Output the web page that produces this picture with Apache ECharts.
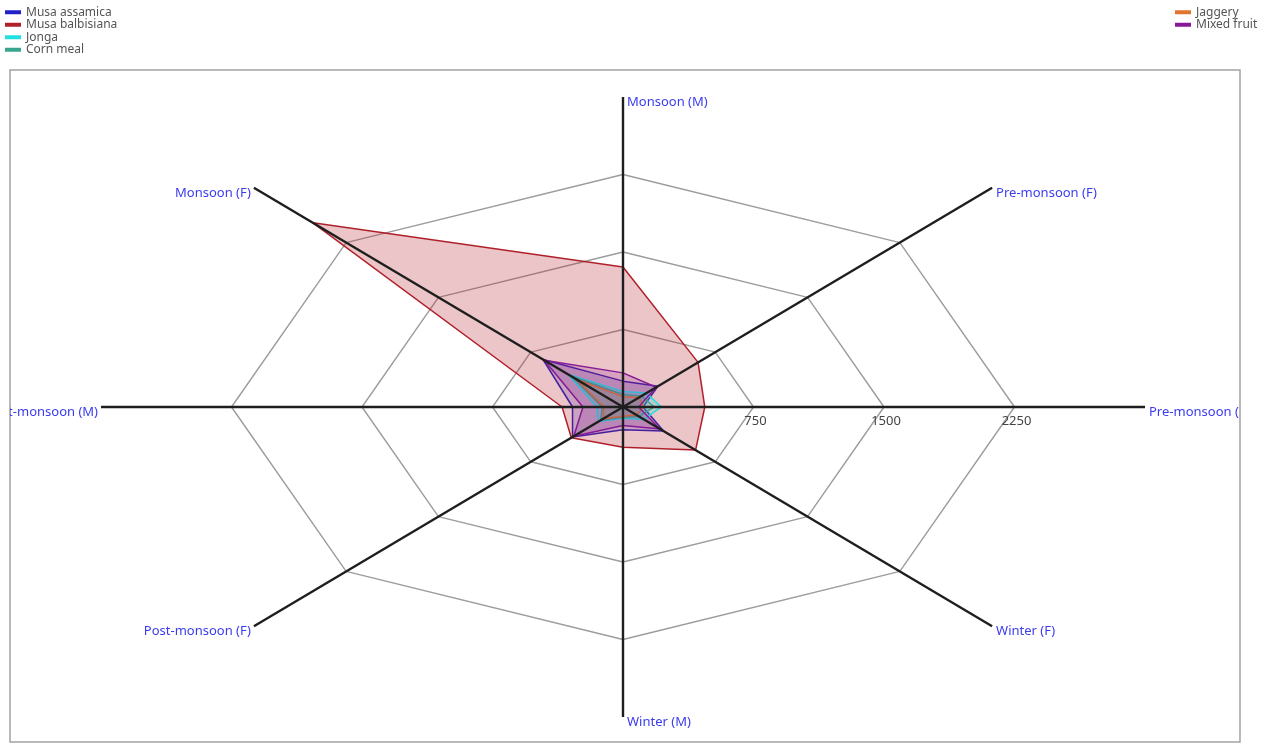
<!DOCTYPE html>
<html>
<head>
<meta charset="utf-8">
<title>Seasonal radar</title>
<script src="https://cdn.jsdelivr.net/npm/echarts@6/dist/echarts.min.js"></script>
<style>
  html, body { margin: 0; padding: 0; background: #ffffff; }
  #chart { width: 1269px; height: 744px; }
</style>
</head>
<body>
<div id="chart"></div>
<script>
// Spoke names, clockwise from the top
const categories = ['Monsoon (M)', 'Pre-monsoon (F)', 'Pre-monsoon (M)', 'Winter (F)',
  'Winter (M)', 'Post-monsoon (F)', 'Post-monsoon (M)', 'Monsoon (F)'];

// Grid rings and their labels
const ringValues = [750, 1500, 2250];
const tickLabels = ['750', '1500', '2250'];
const axisMax = 3000;

// Series values, one per spoke (same order as categories)
const musaAssamica   = [250, 285, 115, 330, 220, 410, 290, 650];
const musaBalbisiana = [1355, 610, 470, 590, 390, 420, 350, 2520];
const jonga          = [150, 190, 220, 170, 110, 200, 150, 450];
const cornMeal       = [120, 150, 180, 130, 100, 180, 120, 420];
const jaggery        = [100, 130, 120, 110, 90, 160, 110, 380];
const mixedFruit     = [330, 270, 90, 300, 180, 400, 230, 640];

const seriesNames = ['Musa assamica', 'Musa balbisiana', 'Jonga', 'Corn meal', 'Jaggery', 'Mixed fruit'];
const seriesValues = [musaAssamica, musaBalbisiana, jonga, cornMeal, jaggery, mixedFruit];
const seriesColors = ['#2020c8', '#b0202a', '#20e0e0', '#3aa58e', '#e0742f', '#861a96'];
const seriesFill   = [0.2, 0.26, 0.22, 0.22, 0.22, 0.2];

// Spoke i points at angle 90° - 45°·i; values are placed on a value/value grid
function spokeAngle(i) { return Math.PI / 2 - i * 2 * Math.PI / categories.length; }
function toXY(v, i) {
  const a = spokeAngle(i);
  return [v * Math.cos(a), v * Math.sin(a)];
}
function rgba(hex, a) {
  const n = parseInt(hex.slice(1), 16);
  return 'rgba(' + (n >> 16 & 255) + ',' + (n >> 8 & 255) + ',' + (n & 255) + ',' + a + ')';
}

const FONT = '"Noto Sans", "Open Sans", sans-serif';
const series = [];

// Concentric octagon rings
ringValues.forEach(function (r) {
  const pts = categories.map(function (c, i) { return toXY(r, i); });
  pts.push(pts[0]);
  series.push({
    type: 'line', data: pts, symbol: 'none', silent: true, z: 1,
    lineStyle: { color: '#9c9c9c', width: 1.4 },
    animation: false
  });
});

// Filled polygons, one per sample
seriesNames.forEach(function (name, k) {
  const vals = seriesValues[k];
  series.push({
    type: 'custom', name: name, coordinateSystem: 'cartesian2d', z: 2,
    itemStyle: { color: seriesColors[k] },
    data: vals.map(function (v, i) { return toXY(v, i); }),
    encode: { x: 0, y: 1 },
    animation: false,
    renderItem: function (params, api) {
      if (params.dataIndex !== 0) return null;
      const pts = vals.map(function (v, i) { return api.coord(toXY(v, i)); });
      return {
        type: 'polygon',
        shape: { points: pts },
        style: { fill: rgba(seriesColors[k], seriesFill[k]), stroke: seriesColors[k], lineWidth: 1.5, lineJoin: 'round' }
      };
    }
  });
});

// Spokes with their names
series.push({
  type: 'custom', coordinateSystem: 'cartesian2d', z: 3, silent: true, clip: true,
  data: categories.map(function (c, i) { return toXY(axisMax, i).concat([i]); }),
  encode: { x: 0, y: 1 },
  animation: false,
  renderItem: function (params, api) {
    const i = api.value(2);
    const c0 = api.coord([0, 0]);
    const c1 = api.coord([api.value(0), api.value(1)]);
    const leftSide = i >= 5;
    return {
      type: 'group',
      children: [
        { type: 'line', shape: { x1: c0[0], y1: c0[1], x2: c1[0], y2: c1[1] },
          style: { stroke: '#1e1e1e', lineWidth: 2.4 } },
        { type: 'text',
          style: { text: categories[i], x: c1[0] + (leftSide ? -3 : 4), y: c1[1] - 1,
            align: leftSide ? 'right' : 'left', verticalAlign: 'top',
            fill: '#3b3bef', font: '13px ' + FONT } }
      ]
    };
  }
});

// Ring value labels along the right spoke
series.push({
  type: 'custom', coordinateSystem: 'cartesian2d', z: 4, silent: true,
  data: ringValues.map(function (r, j) { return [r, 0, j]; }),
  encode: { x: 0, y: 1 },
  animation: false,
  renderItem: function (params, api) {
    const p = api.coord([api.value(0), api.value(1)]);
    return {
      type: 'text',
      style: { text: tickLabels[api.value(2)], x: p[0] + 2, y: p[1] + 8,
        align: 'center', verticalAlign: 'top', fill: '#444', font: '13px ' + FONT }
    };
  }
});

const chart = echarts.init(document.getElementById('chart'));
chart.setOption({
  backgroundColor: '#ffffff',
  animation: false,
  grid: { left: 10, top: 70, right: 29, bottom: 2, show: true, borderColor: '#a2a2a2', borderWidth: 1.5, backgroundColor: 'transparent' },
  xAxis: { type: 'value', min: -3523, max: 3546, show: false },
  yAxis: { type: 'value', min: -3242, max: 3261, show: false },
  legend: [
    { data: seriesNames.slice(0, 4), orient: 'vertical', left: 5, top: 6, padding: 0, itemGap: 0,
      icon: 'rect', itemWidth: 16, itemHeight: 4, selectedMode: false,
      textStyle: { fontFamily: FONT, fontSize: 12, color: '#555', lineHeight: 12.5 } },
    { data: seriesNames.slice(4), orient: 'vertical', left: 1175, top: 6, padding: 0, itemGap: 0,
      icon: 'rect', itemWidth: 16, itemHeight: 4, selectedMode: false,
      textStyle: { fontFamily: FONT, fontSize: 12, color: '#555', lineHeight: 12.5 } }
  ],
  series: series
});
</script>
</body>
</html>
